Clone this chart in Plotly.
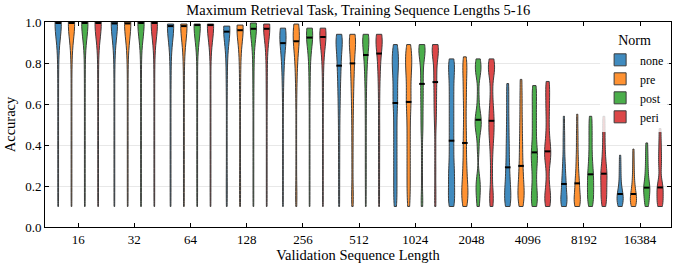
import plotly.graph_objects as go

# ---------------- data ----------------
seq_lengths = ["16", "32", "64", "128", "256", "512", "1024", "2048", "4096", "8192", "16384"]
norms = ["none", "pre", "post", "peri"]

none_samples = [
    [1.0, 1.0, 1.0, 1.0, 1.0, 1.0, 1.0, 1.0, 1.0, 1.0, 1.0, 0.99, 0.97, 0.94, 0.9, 0.85, 0.79, 0.7, 0.6, 0.5, 0.4, 0.3, 0.2, 0.1],
    [1.0, 1.0, 1.0, 1.0, 1.0, 1.0, 1.0, 1.0, 1.0, 1.0, 1.0, 0.99, 0.97, 0.94, 0.9, 0.85, 0.8, 0.7, 0.6, 0.5, 0.4, 0.3, 0.2, 0.1],
    [0.99, 0.99, 0.99, 0.99, 0.99, 0.99, 0.99, 0.99, 0.99, 0.99, 0.98, 0.96, 0.93, 0.89, 0.84, 0.78, 0.7, 0.6, 0.5, 0.4, 0.3, 0.2, 0.1],
    [0.98, 0.98, 0.98, 0.98, 0.98, 0.98, 0.98, 0.97, 0.96, 0.95, 0.94, 0.92, 0.9, 0.87, 0.83, 0.78, 0.72, 0.65, 0.55, 0.45, 0.35, 0.25, 0.18, 0.1],
    [0.97, 0.97, 0.97, 0.96, 0.96, 0.95, 0.94, 0.93, 0.92, 0.91, 0.9, 0.89, 0.88, 0.86, 0.84, 0.82, 0.79, 0.76, 0.72, 0.67, 0.6, 0.5, 0.4, 0.3, 0.2, 0.1],
    [0.94, 0.94, 0.93, 0.93, 0.92, 0.91, 0.9, 0.89, 0.88, 0.86, 0.84, 0.82, 0.8, 0.78, 0.76, 0.74, 0.71, 0.68, 0.65, 0.61, 0.57, 0.52, 0.46, 0.4, 0.33, 0.26, 0.18, 0.1],
    [0.89, 0.87, 0.85, 0.83, 0.81, 0.79, 0.77, 0.75, 0.72, 0.69, 0.66, 0.63, 0.61, 0.58, 0.54, 0.5, 0.46, 0.42, 0.38, 0.34, 0.3, 0.26, 0.22, 0.18, 0.14, 0.1],
    [0.82, 0.8, 0.77, 0.74, 0.7, 0.66, 0.62, 0.58, 0.54, 0.5, 0.46, 0.42, 0.38, 0.34, 0.3, 0.27, 0.24, 0.21, 0.18, 0.15, 0.12, 0.1],
    [0.7, 0.64, 0.58, 0.52, 0.47, 0.42, 0.38, 0.34, 0.3, 0.27, 0.24, 0.21, 0.19, 0.17, 0.15, 0.13, 0.11, 0.1],
    [0.54, 0.46, 0.4, 0.34, 0.3, 0.27, 0.24, 0.22, 0.2, 0.18, 0.16, 0.14, 0.13, 0.12, 0.11, 0.1],
    [0.35, 0.3, 0.26, 0.22, 0.19, 0.17, 0.16, 0.15, 0.14, 0.13, 0.12, 0.11, 0.1],
]
pre_samples = [
    [1.0, 1.0, 1.0, 1.0, 1.0, 1.0, 1.0, 1.0, 1.0, 1.0, 1.0, 0.99, 0.97, 0.94, 0.9, 0.86, 0.8, 0.7, 0.6, 0.5, 0.4, 0.3, 0.2, 0.1],
    [1.0, 1.0, 1.0, 1.0, 1.0, 1.0, 1.0, 1.0, 1.0, 1.0, 1.0, 0.99, 0.97, 0.94, 0.9, 0.86, 0.8, 0.7, 0.6, 0.5, 0.4, 0.3, 0.2, 0.1],
    [0.99, 0.99, 0.99, 0.99, 0.99, 0.99, 0.99, 0.99, 0.99, 0.99, 0.98, 0.96, 0.93, 0.89, 0.84, 0.79, 0.7, 0.6, 0.5, 0.4, 0.3, 0.2, 0.1],
    [0.985, 0.985, 0.985, 0.985, 0.985, 0.985, 0.985, 0.975, 0.965, 0.955, 0.94, 0.92, 0.9, 0.87, 0.83, 0.78, 0.72, 0.65, 0.55, 0.45, 0.35, 0.25, 0.18, 0.1],
    [0.99, 0.99, 0.98, 0.98, 0.97, 0.96, 0.95, 0.94, 0.93, 0.92, 0.91, 0.9, 0.89, 0.88, 0.86, 0.84, 0.82, 0.79, 0.76, 0.72, 0.67, 0.6, 0.5, 0.4, 0.3, 0.2, 0.15, 0.1],
    [0.94, 0.94, 0.93, 0.93, 0.92, 0.91, 0.9, 0.89, 0.88, 0.86, 0.84, 0.82, 0.8, 0.78, 0.76, 0.74, 0.71, 0.68, 0.65, 0.61, 0.57, 0.52, 0.46, 0.4, 0.33, 0.26, 0.18, 0.14, 0.1],
    [0.89, 0.87, 0.85, 0.83, 0.81, 0.79, 0.77, 0.75, 0.72, 0.69, 0.66, 0.63, 0.61, 0.58, 0.55, 0.51, 0.47, 0.43, 0.39, 0.35, 0.31, 0.27, 0.23, 0.19, 0.15, 0.1],
    [0.83, 0.8, 0.77, 0.74, 0.7, 0.66, 0.62, 0.57, 0.52, 0.47, 0.43, 0.39, 0.35, 0.31, 0.28, 0.25, 0.22, 0.2, 0.18, 0.16, 0.14, 0.12, 0.1],
    [0.72, 0.65, 0.59, 0.53, 0.48, 0.43, 0.39, 0.35, 0.31, 0.28, 0.25, 0.22, 0.2, 0.18, 0.16, 0.14, 0.12, 0.1],
    [0.55, 0.47, 0.41, 0.35, 0.31, 0.27, 0.24, 0.22, 0.2, 0.18, 0.16, 0.14, 0.13, 0.12, 0.11, 0.1],
    [0.38, 0.32, 0.27, 0.23, 0.2, 0.18, 0.16, 0.15, 0.14, 0.13, 0.12, 0.11, 0.1],
]
post_samples = [
    [1.0, 1.0, 1.0, 1.0, 1.0, 1.0, 1.0, 1.0, 1.0, 1.0, 1.0, 1.0, 0.98, 0.95, 0.91, 0.86, 0.78, 0.7, 0.6, 0.5, 0.4, 0.3, 0.2, 0.1],
    [1.0, 1.0, 1.0, 1.0, 1.0, 1.0, 1.0, 1.0, 1.0, 1.0, 1.0, 1.0, 0.98, 0.95, 0.91, 0.86, 0.78, 0.7, 0.6, 0.5, 0.4, 0.3, 0.2, 0.1],
    [0.99, 0.99, 0.99, 0.99, 0.99, 0.99, 0.99, 0.99, 0.99, 0.99, 0.99, 0.98, 0.96, 0.93, 0.88, 0.8, 0.7, 0.6, 0.5, 0.4, 0.3, 0.2, 0.1],
    [0.995, 0.995, 0.995, 0.995, 0.995, 0.995, 0.99, 0.98, 0.97, 0.96, 0.95, 0.93, 0.9, 0.86, 0.81, 0.75, 0.68, 0.6, 0.5, 0.4, 0.3, 0.2, 0.1],
    [0.97, 0.97, 0.97, 0.96, 0.96, 0.95, 0.95, 0.94, 0.93, 0.92, 0.91, 0.9, 0.88, 0.86, 0.83, 0.79, 0.74, 0.68, 0.6, 0.5, 0.4, 0.3, 0.2, 0.1],
    [0.94, 0.94, 0.93, 0.93, 0.92, 0.92, 0.91, 0.9, 0.89, 0.88, 0.86, 0.84, 0.82, 0.8, 0.77, 0.74, 0.7, 0.65, 0.59, 0.52, 0.44, 0.36, 0.28, 0.2, 0.1],
    [0.89, 0.885, 0.88, 0.87, 0.86, 0.85, 0.84, 0.8, 0.76, 0.72, 0.68, 0.64, 0.6, 0.55, 0.5, 0.45, 0.35, 0.25, 0.15, 0.1],
    [0.82, 0.8, 0.78, 0.76, 0.74, 0.64, 0.56, 0.54, 0.52, 0.5, 0.48, 0.46, 0.38, 0.24, 0.21, 0.18, 0.15, 0.1],
    [0.69, 0.66, 0.62, 0.58, 0.54, 0.5, 0.46, 0.42, 0.38, 0.36, 0.34, 0.31, 0.28, 0.24, 0.2, 0.17, 0.14, 0.12, 0.1],
    [0.54, 0.5, 0.46, 0.42, 0.38, 0.34, 0.31, 0.28, 0.26, 0.24, 0.22, 0.2, 0.18, 0.16, 0.14, 0.12, 0.1],
    [0.41, 0.36, 0.32, 0.28, 0.25, 0.22, 0.2, 0.19, 0.18, 0.16, 0.14, 0.12, 0.1],
]
peri_samples = [
    [1.0, 1.0, 1.0, 1.0, 1.0, 1.0, 1.0, 1.0, 1.0, 1.0, 1.0, 1.0, 0.98, 0.95, 0.91, 0.86, 0.79, 0.7, 0.6, 0.5, 0.4, 0.3, 0.2, 0.1],
    [1.0, 1.0, 1.0, 1.0, 1.0, 1.0, 1.0, 1.0, 1.0, 1.0, 1.0, 1.0, 0.98, 0.95, 0.91, 0.86, 0.79, 0.7, 0.6, 0.5, 0.4, 0.3, 0.2, 0.1],
    [0.99, 0.99, 0.99, 0.99, 0.99, 0.99, 0.99, 0.99, 0.99, 0.99, 0.99, 0.98, 0.96, 0.93, 0.88, 0.81, 0.7, 0.6, 0.5, 0.4, 0.3, 0.2, 0.1],
    [0.99, 0.99, 0.99, 0.99, 0.99, 0.99, 0.985, 0.98, 0.97, 0.96, 0.95, 0.93, 0.9, 0.86, 0.81, 0.75, 0.68, 0.6, 0.5, 0.4, 0.3, 0.2, 0.1],
    [0.97, 0.97, 0.97, 0.96, 0.96, 0.95, 0.95, 0.94, 0.93, 0.92, 0.91, 0.9, 0.88, 0.86, 0.83, 0.79, 0.74, 0.67, 0.6, 0.5, 0.4, 0.3, 0.2, 0.1],
    [0.94, 0.94, 0.93, 0.93, 0.92, 0.92, 0.91, 0.9, 0.89, 0.88, 0.86, 0.84, 0.82, 0.8, 0.77, 0.74, 0.7, 0.65, 0.59, 0.52, 0.46, 0.4, 0.33, 0.26, 0.18, 0.1],
    [0.89, 0.885, 0.88, 0.87, 0.86, 0.85, 0.84, 0.8, 0.76, 0.73, 0.7, 0.66, 0.62, 0.58, 0.54, 0.48, 0.38, 0.28, 0.18, 0.1],
    [0.82, 0.8, 0.78, 0.76, 0.73, 0.66, 0.6, 0.56, 0.53, 0.5, 0.47, 0.44, 0.4, 0.34, 0.26, 0.18, 0.14, 0.1],
    [0.71, 0.68, 0.64, 0.6, 0.56, 0.51, 0.46, 0.42, 0.39, 0.37, 0.35, 0.33, 0.3, 0.24, 0.19, 0.16, 0.14, 0.12, 0.1],
    [0.54, 0.49, 0.44, 0.39, 0.35, 0.32, 0.29, 0.27, 0.26, 0.24, 0.22, 0.2, 0.18, 0.16, 0.14, 0.12, 0.1],
    [0.48, 0.42, 0.37, 0.33, 0.29, 0.23, 0.2, 0.19, 0.17, 0.15, 0.13, 0.11, 0.1],
]

none_medians = [0.995, 0.993, 0.98, 0.953, 0.897, 0.787, 0.605, 0.421, 0.291, 0.21, 0.161]
pre_medians = [0.995, 0.993, 0.98, 0.96, 0.906, 0.798, 0.61, 0.41, 0.298, 0.213, 0.161]
post_medians = [0.995, 0.995, 0.985, 0.967, 0.924, 0.839, 0.698, 0.523, 0.364, 0.257, 0.192]
peri_medians = [0.995, 0.995, 0.985, 0.967, 0.927, 0.846, 0.707, 0.518, 0.369, 0.26, 0.193]

y_ticks = [0.0, 0.2, 0.4, 0.6, 0.8, 1.0]

# ---------------- style ----------------
colors = ["#408bbf", "#ff9232", "#4bae4b", "#dc4748"]
edge = "#3c3c3c"
bandwidths = [0.07, 0.07, 0.07, 0.06, 0.055, 0.05, 0.045, 0.04, 0.04, 0.035, 0.03]
DODGE = 0.237
VWIDTH = 0.11
FONT = "Liberation Serif"

all_samples = [none_samples, pre_samples, post_samples, peri_samples]
all_medians = [none_medians, pre_medians, post_medians, peri_medians]

fig = go.Figure()
for j, (norm, samples, color) in enumerate(zip(norms, all_samples, colors)):
    for i, s in enumerate(samples):
        pos = i + (j - 1.5) * DODGE
        fig.add_trace(go.Violin(
            x=[pos] * len(s), y=s, width=VWIDTH, bandwidth=bandwidths[i],
            spanmode="hard", points=False, side="both", scalemode="width",
            fillcolor=color, line=dict(color=edge, width=1), opacity=1,
            name=norm, legendgroup=norm, showlegend=(i == 0), hoverinfo="skip",
        ))

for j, (norm, med) in enumerate(zip(norms, all_medians)):
    xs = [i + (j - 1.5) * DODGE for i in range(len(med))]
    fig.add_trace(go.Scatter(
        x=xs, y=med, mode="markers", showlegend=False, hoverinfo="skip",
        marker=dict(symbol="line-ew", size=4, line=dict(width=2, color="black")),
    ))

fig.update_layout(
    width=676, height=266,
    margin=dict(l=45, r=5, t=22, b=39),
    plot_bgcolor="white", paper_bgcolor="white",
    font=dict(family=FONT, size=13, color="black"),
    title=dict(text="Maximum Retrieval Task, Training Sequence Lengths 5-16",
               x=0.53, xanchor="center", y=0.962, yanchor="middle",
               font=dict(family=FONT, size=14.5)),
    legend=dict(title=dict(text="Norm", side="top center", font=dict(size=14)),
                x=0.997, xanchor="right", y=0.975, yanchor="top",
                bgcolor="rgba(255,255,255,0.8)", font=dict(size=12),
                tracegroupgap=0),
    showlegend=True,
)
fig.update_xaxes(
    range=[-0.59, 10.55], tickmode="array", tickvals=list(range(len(seq_lengths))),
    ticktext=seq_lengths, ticks="inside", ticklen=4, tickcolor="black",
    showline=True, linecolor="black", linewidth=1, mirror="ticks",
    showgrid=False, zeroline=False, tickfont=dict(size=13),
    title=dict(text="Validation Sequence Length", font=dict(size=14.5), standoff=3),
)
fig.update_yaxes(
    range=[0, 1], tickmode="array", tickvals=y_ticks, tickformat=".1f",
    ticks="inside", ticklen=4, tickcolor="black",
    showline=True, linecolor="black", linewidth=1, mirror="ticks",
    showgrid=True, gridcolor="#e8e8e8", gridwidth=1, zeroline=False,
    tickfont=dict(size=13),
    title=dict(text="Accuracy", font=dict(size=14.5), standoff=6),
)

fig.write_html("out.html", post_script="document.body.style.margin='0px';",
               config={"displayModeBar": False})
